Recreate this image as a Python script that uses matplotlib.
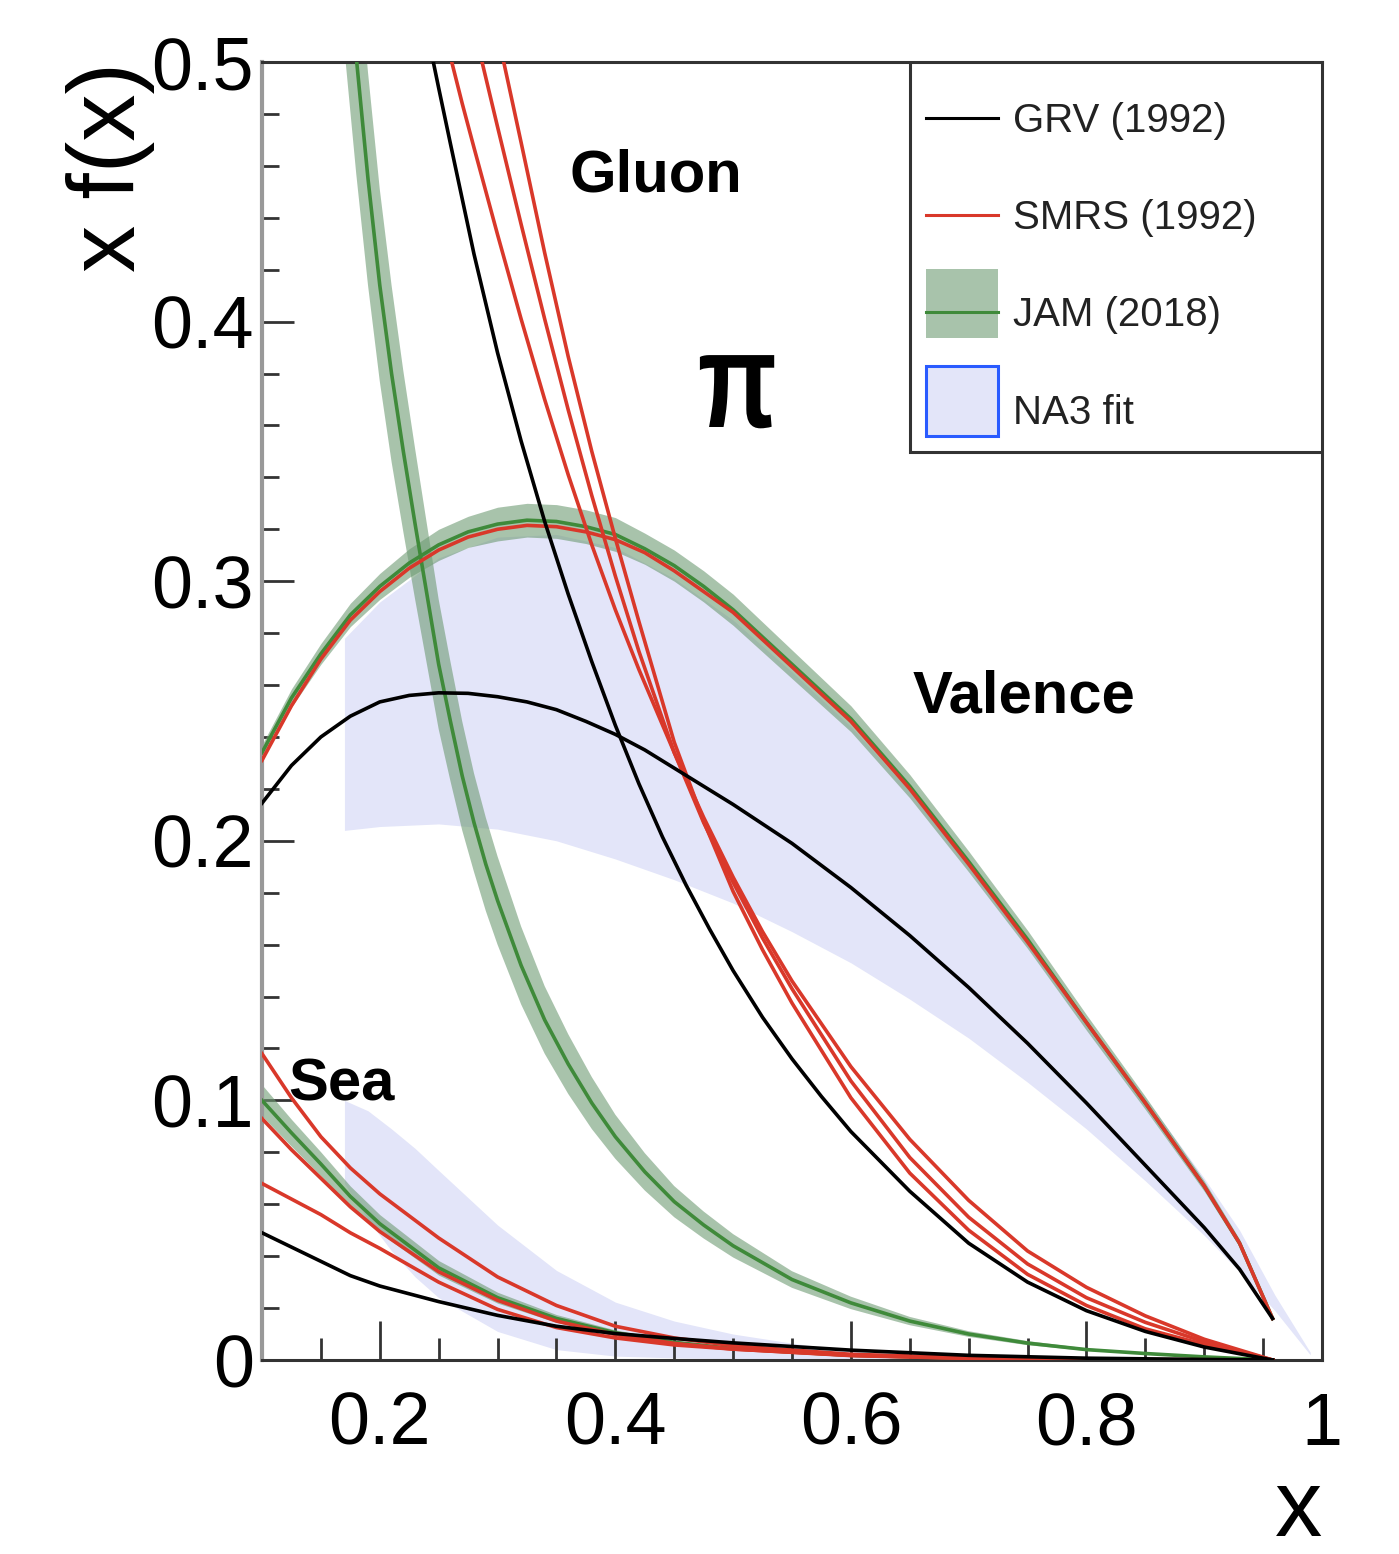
import matplotlib

matplotlib.use("Agg")

import matplotlib.pyplot as plt
from matplotlib.font_manager import FontProperties
from matplotlib.legend_handler import HandlerPatch
from matplotlib.lines import Line2D
from matplotlib.patches import Patch, PathPatch, Rectangle
from matplotlib.textpath import TextPath
from matplotlib.ticker import MultipleLocator
from matplotlib.transforms import Affine2D, ScaledTranslation

plt.rcParams["font.family"] = ["Liberation Sans", "DejaVu Sans"]

GREEN = "#3f8a3a"
GREEN_BAND = "#6f9b74"
RED = "#d9382a"
LAVENDER = "#e3e5f9"
FRAME = "#333333"

# ---- valence ----
val_x = [0.10, 0.125, 0.15, 0.175, 0.20, 0.225, 0.25, 0.275, 0.30, 0.325, 0.35, 0.375, 0.40,
         0.425, 0.45, 0.475, 0.50, 0.55, 0.60, 0.65, 0.70, 0.75, 0.80, 0.85, 0.90, 0.93, 0.958]
jam_val = [0.234, 0.255, 0.272, 0.287, 0.298, 0.307, 0.314, 0.319, 0.322, 0.3235, 0.323, 0.321, 0.318,
           0.3125, 0.306, 0.298, 0.289, 0.268, 0.247, 0.221, 0.192, 0.162, 0.130, 0.099, 0.067, 0.045, 0.016]
jam_val_err = [0.003, 0.0035, 0.004, 0.0045, 0.005, 0.0055, 0.006, 0.006, 0.0065, 0.0065, 0.0065, 0.0065, 0.0065,
               0.006, 0.006, 0.006, 0.006, 0.0055, 0.005, 0.0045, 0.004, 0.0035, 0.003, 0.0025, 0.002, 0.0015, 0.001]
smrs_val = [0.231, 0.252, 0.270, 0.285, 0.296, 0.305, 0.312, 0.317, 0.320, 0.3215, 0.321, 0.319, 0.316,
            0.311, 0.304, 0.296, 0.288, 0.267, 0.246, 0.220, 0.191, 0.161, 0.130, 0.099, 0.067, 0.045, 0.016]
grv_val = [0.2145, 0.229, 0.240, 0.248, 0.2535, 0.256, 0.257, 0.2568, 0.2555, 0.2535, 0.2505, 0.246, 0.241,
           0.235, 0.228, 0.221, 0.214, 0.199, 0.182, 0.1635, 0.1435, 0.122, 0.099, 0.075, 0.051, 0.035, 0.016]

na3_val_x = [0.17, 0.20, 0.25, 0.30, 0.35, 0.40, 0.45, 0.50, 0.55, 0.60,
             0.65, 0.70, 0.75, 0.80, 0.85, 0.90, 0.93, 0.96, 0.99]
na3_val_hi = [0.278, 0.292, 0.309, 0.317, 0.318, 0.313, 0.301, 0.285, 0.265, 0.244,
              0.219, 0.191, 0.162, 0.131, 0.101, 0.070, 0.050, 0.025, 0.003]
na3_val_lo = [0.204, 0.2055, 0.2065, 0.2045, 0.200, 0.193, 0.185, 0.176, 0.165, 0.153,
              0.139, 0.124, 0.107, 0.089, 0.069, 0.048, 0.034, 0.019, 0.002]

# ---- gluon ----
jam_glu_x = [0.17, 0.18, 0.19, 0.20, 0.21, 0.22, 0.23, 0.24, 0.25, 0.26, 0.27, 0.28, 0.29, 0.30,
             0.32, 0.34, 0.36, 0.38, 0.40, 0.425, 0.45, 0.475, 0.50, 0.55, 0.60, 0.65, 0.70,
             0.75, 0.80, 0.85, 0.90, 0.958]
jam_glu = [0.555, 0.502, 0.455, 0.414, 0.380, 0.350, 0.322, 0.295, 0.268, 0.246, 0.225, 0.207, 0.191, 0.177,
           0.152, 0.131, 0.114, 0.099, 0.086, 0.0725, 0.061, 0.052, 0.044, 0.031, 0.022, 0.015, 0.010,
           0.0065, 0.004, 0.0025, 0.0012, 0.0]
jam_glu_err = [0.050, 0.045, 0.041, 0.037, 0.034, 0.031, 0.029, 0.027, 0.025, 0.023, 0.021, 0.019, 0.018, 0.017,
               0.015, 0.013, 0.0115, 0.010, 0.0085, 0.0072, 0.006, 0.0052, 0.0045, 0.0032, 0.0024, 0.0016, 0.0011,
               0.0008, 0.0005, 0.0003, 0.0002, 0.0]

grv_glu_x = [0.24, 0.25, 0.26, 0.28, 0.30, 0.32, 0.34, 0.36, 0.38, 0.40, 0.42, 0.44, 0.46, 0.48,
             0.50, 0.525, 0.55, 0.575, 0.60, 0.65, 0.70, 0.75, 0.80, 0.85, 0.90, 0.958]
grv_glu = [0.512, 0.490, 0.4685, 0.426, 0.388, 0.354, 0.323, 0.295, 0.269, 0.2445, 0.222, 0.2015, 0.183, 0.166,
           0.150, 0.132, 0.116, 0.1015, 0.088, 0.065, 0.045, 0.030, 0.019, 0.011, 0.005, 0.0]

smrs_glu_a_x = [0.25, 0.26, 0.27, 0.28, 0.30, 0.32, 0.34, 0.36, 0.38, 0.40, 0.42, 0.45, 0.475,
                0.50, 0.525, 0.55, 0.60, 0.65, 0.70, 0.75, 0.80, 0.85, 0.90, 0.958]
smrs_glu_a = [0.520, 0.502, 0.484, 0.467, 0.4335, 0.401, 0.370, 0.341, 0.314, 0.289, 0.266, 0.234, 0.209,
              0.186, 0.165, 0.146, 0.113, 0.085, 0.0615, 0.042, 0.028, 0.017, 0.008, 0.0]
smrs_glu_b_x = [0.28, 0.29, 0.30, 0.32, 0.34, 0.36, 0.38, 0.40, 0.42, 0.45, 0.475,
                0.50, 0.525, 0.55, 0.60, 0.65, 0.70, 0.75, 0.80, 0.85, 0.90, 0.958]
smrs_glu_b = [0.513, 0.494, 0.475, 0.4375, 0.401, 0.366, 0.333, 0.302, 0.273, 0.234, 0.207,
              0.184, 0.1625, 0.143, 0.1075, 0.078, 0.055, 0.037, 0.024, 0.0145, 0.007, 0.0]
smrs_glu_c_x = [0.29, 0.30, 0.31, 0.32, 0.34, 0.36, 0.38, 0.40, 0.42, 0.45, 0.475,
                0.50, 0.525, 0.55, 0.60, 0.65, 0.70, 0.75, 0.80, 0.85, 0.90, 0.958]
smrs_glu_c = [0.533, 0.511, 0.490, 0.469, 0.4265, 0.3865, 0.350, 0.3165, 0.2845, 0.238, 0.2075,
              0.1805, 0.158, 0.1375, 0.101, 0.072, 0.050, 0.033, 0.021, 0.012, 0.006, 0.0]

# ---- sea ----
sea_x = [0.10, 0.125, 0.15, 0.175, 0.20, 0.25, 0.30, 0.35, 0.40, 0.45, 0.50,
         0.60, 0.70, 0.80, 0.90, 0.958]
jam_sea = [0.100, 0.0875, 0.0755, 0.063, 0.0525, 0.0355, 0.024, 0.016, 0.0105, 0.0068, 0.0044,
           0.0018, 0.0007, 0.0002, 0.0, 0.0]
jam_sea_err = [0.006, 0.0052, 0.0046, 0.004, 0.0035, 0.0028, 0.0021, 0.0015, 0.0011, 0.0008, 0.0006,
               0.0003, 0.0001, 0.0, 0.0, 0.0]
smrs_sea_a = [0.118, 0.101, 0.086, 0.074, 0.064, 0.047, 0.032, 0.021, 0.013, 0.0085, 0.0055,
              0.0022, 0.0009, 0.0003, 0.0001, 0.0]
smrs_sea_b = [0.093, 0.081, 0.070, 0.059, 0.0495, 0.034, 0.023, 0.015, 0.0098, 0.0064, 0.0042,
              0.0017, 0.0006, 0.0002, 0.0, 0.0]
smrs_sea_c = [0.068, 0.062, 0.056, 0.049, 0.043, 0.030, 0.0195, 0.0125, 0.0085, 0.0058, 0.0042,
              0.0018, 0.0007, 0.0002, 0.0, 0.0]
grv_sea = [0.049, 0.0435, 0.038, 0.0325, 0.0285, 0.0225, 0.0172, 0.0130, 0.0102, 0.0083, 0.0066,
           0.0038, 0.0018, 0.0007, 0.0002, 0.0]

na3_sea_x = [0.17, 0.19, 0.21, 0.23, 0.25, 0.30, 0.35, 0.40, 0.45, 0.50, 0.55, 0.60, 0.65]
na3_sea_hi = [0.100, 0.096, 0.089, 0.0815, 0.073, 0.052, 0.0345, 0.0223, 0.015, 0.010, 0.0065, 0.0035, 0.0015]
na3_sea_lo = [0.068, 0.054, 0.042, 0.032, 0.024, 0.011, 0.004, 0.0015, 0.0008, 0.0005, 0.0003, 0.0002, 0.0001]

x_ticks = [0.2, 0.4, 0.6, 0.8, 1.0]
x_tick_labels = ["0.2", "0.4", "0.6", "0.8", "1"]
y_ticks = [0.0, 0.1, 0.2, 0.3, 0.4, 0.5]
y_tick_labels = ["0", "0.1", "0.2", "0.3", "0.4", "0.5"]
legend_labels = ["GRV (1992)", "SMRS (1992)", "JAM (2018)", "NA3 fit"]


def band(mid, err):
    lo = [m - e for m, e in zip(mid, err)]
    hi = [m + e for m, e in zip(mid, err)]
    return lo, hi


def legend_box(legend, orig_handle, xdescent, ydescent, width, height, fontsize):
    # tall square-ish swatch, a bit above the text centre like the original
    return Rectangle((-xdescent, -0.3 * fontsize), width, 1.72 * fontsize)


fig = plt.figure(figsize=(13.99, 15.54), dpi=100)
ax = fig.add_axes([262 / 1399, 1 - 1360 / 1554, 1060 / 1399, 1298 / 1554])

# NA3 fit bands
ax.fill_between(na3_val_x, na3_val_lo, na3_val_hi, color=LAVENDER, lw=0, zorder=1)
ax.fill_between(na3_sea_x, na3_sea_lo, na3_sea_hi, color=LAVENDER, lw=0, zorder=1)

# JAM bands
for x, mid, err in [(val_x, jam_val, jam_val_err), (jam_glu_x, jam_glu, jam_glu_err),
                    (sea_x, jam_sea, jam_sea_err)]:
    lo, hi = band(mid, err)
    ax.fill_between(x, lo, hi, color=GREEN_BAND, alpha=0.6, lw=0, zorder=2)

lw = 2.6
for x, y in [(val_x, jam_val), (jam_glu_x, jam_glu), (sea_x, jam_sea)]:
    ax.plot(x, y, color=GREEN, lw=lw, zorder=3)
for x, y in [(val_x, smrs_val), (smrs_glu_a_x, smrs_glu_a), (smrs_glu_b_x, smrs_glu_b),
             (smrs_glu_c_x, smrs_glu_c), (sea_x, smrs_sea_a), (sea_x, smrs_sea_b),
             (sea_x, smrs_sea_c)]:
    ax.plot(x, y, color=RED, lw=lw, zorder=4)
for x, y in [(val_x, grv_val), (grv_glu_x, grv_glu), (sea_x, grv_sea)]:
    ax.plot(x, y, color="black", lw=lw, zorder=5)

ax.set_xlim(0.1, 1.0)
ax.set_ylim(0, 0.5)
ax.set_xticks(x_ticks, x_tick_labels)
ax.set_yticks(y_ticks, y_tick_labels)
ax.xaxis.set_minor_locator(MultipleLocator(0.05))
ax.yaxis.set_minor_locator(MultipleLocator(0.02))
ax.tick_params(which="both", direction="in", top=False, right=False, color=FRAME, width=2)
ax.tick_params(axis="x", which="major", length=28, pad=22, labelsize=53)
ax.tick_params(axis="x", which="minor", length=16)
ax.tick_params(axis="y", which="major", length=23, pad=6, labelsize=53)
ax.tick_params(axis="y", which="minor", length=12)

for s in ax.spines.values():
    s.set_color(FRAME)
    s.set_linewidth(2.2)
ax.spines["left"].set_color("#999999")
ax.spines["left"].set_linewidth(3)

ax.set_xlabel("x", fontsize=68, loc="right")
ax.xaxis.set_label_coords(1.0, -0.0824)
ax.set_ylabel("x f(x)", fontsize=68, loc="top")
ax.yaxis.set_label_coords(-0.101, 1.0)

ax.text(0.3615, 0.45, "Gluon", fontsize=43, fontweight="bold", zorder=6)
ax.text(0.652, 0.2496, "Valence", fontsize=43, fontweight="bold", zorder=6)
ax.text(0.122, 0.100, "Sea", fontsize=43, fontweight="bold", zorder=6)

# narrow bold pi, drawn as a horizontally squeezed text path
pi_path = TextPath((0, 0), "π", size=98, prop=FontProperties(family="Liberation Sans", weight="bold"))
pi_trans = Affine2D().scale(0.76 * fig.dpi / 72, fig.dpi / 72) + ScaledTranslation(0.470, 0.3594, ax.transData)
ax.add_patch(PathPatch(pi_path, transform=pi_trans, facecolor="black", lw=0, zorder=6))

# legend frame drawn on its own so the entries can sit freely inside it
ax.add_patch(Rectangle((0.6113, 0.6995), 0.3887, 0.3005, transform=ax.transAxes,
                       facecolor="white", edgecolor=FRAME, lw=2.2, zorder=6))

handles = [
    Line2D([], [], color="black", lw=2.2),
    Line2D([], [], color=RED, lw=2.2),
    (Patch(facecolor=GREEN_BAND, alpha=0.6, edgecolor="none"), Line2D([], [], color=GREEN, lw=2.2)),
    Patch(facecolor=LAVENDER, edgecolor="#2a5bff", linewidth=2.2),
]
leg = ax.legend(handles, legend_labels, loc="upper left", bbox_to_anchor=(0.6264, 0.9692),
                borderaxespad=0, borderpad=0, fontsize=29, handlelength=1.8, handleheight=0.7,
                handletextpad=0.35, labelspacing=1.47, frameon=False,
                handler_map={Patch: HandlerPatch(patch_func=legend_box)})
leg.set_zorder(7)
for t in leg.get_texts():
    t.set_color("#222222")

fig.savefig("out.png", dpi=100)
